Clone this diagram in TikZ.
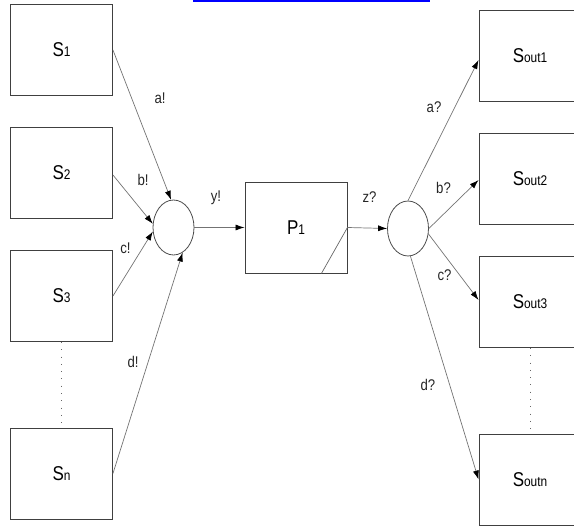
\documentclass[tikz,border=0pt]{standalone}
\usepackage{fontspec}
\setmainfont[FakeStretch=0.85]{Liberation Sans}
\usetikzlibrary{arrows.meta,shapes.geometric}
\newcommand{\boxname}[2]{{\fontsize{20}{22}\selectfont #1}{\fontsize{14}{16}\selectfont #2}}
\begin{document}
\begin{tikzpicture}[x=1pt,y=-1pt,
  procbox/.style={draw=black!75,line width=0.9pt,rectangle,minimum width=102pt,minimum height=91pt,inner sep=0pt},
  joint/.style={draw=black!70,line width=0.8pt,ellipse,minimum width=41pt,minimum height=55pt,inner sep=0pt},
  link/.style={draw=black!55,line width=0.7pt,-{Latex[length=9pt,width=6pt,black]}},
  chan/.style={font=\fontsize{15.5}{17}\selectfont,inner sep=0pt,text=black!85},
  gap/.style={draw=black!60,line width=0.8pt,dash pattern=on 0.8pt off 6.5pt}]
\useasboundingbox (0,0) rectangle (574,526);

% clipped hyperlink at the top edge
\fill[blue] (193,0) rectangle (430,2);

% senders
\node[procbox] (S1) at (61.5,50) {\boxname{S}{1}};
\node[procbox] (S2) at (61.5,172.5) {\boxname{S}{2}};
\node[procbox] (S3) at (61.5,296) {\boxname{S}{3}};
\node[procbox] (Sn) at (61.5,473.5) {\boxname{S}{n}};

% process
\node[procbox] (P1) at (296,227.5) {\boxname{P}{1}};
\draw[draw=black!60,line width=0.7pt] ([xshift=-26pt]P1.south east) -- (P1.east);

% merge and split points
\node[joint] (L) at (173.5,227.5) {};
\node[joint] (R) at (408,228.5) {};

% receivers
\node[procbox] (O1) at (530,55.5) {\boxname{S}{out1}};
\node[procbox] (O2) at (530,178.5) {\boxname{S}{out2}};
\node[procbox] (O3) at (530,302) {\boxname{S}{out3}};
\node[procbox] (On) at (530,479.5) {\boxname{S}{outn}};

% elided boxes
\draw[gap] (S3.south) -- (Sn.north);
\draw[gap] (O3.south) -- (On.north);

% inputs
\draw[link] (S1.east) -- (L.95);
\draw[link] ([yshift=-2.5pt]S2.east) -- (L.170);
\draw[link] (S3.east) -- (L.191);
\draw[link] (Sn.east) -- (L.-70);
\draw[link] (L.east) -- (P1.west);
\draw[link] (P1.east) -- (R.west);

% outputs
\draw[link] (R.north) -- ([yshift=-4.5pt]O1.west);
\draw[link] (R.east) -- ([yshift=-1.5pt]O2.west);
\draw[link] (R.-15) -- ([yshift=2pt]O3.west);
\draw[link] (R.-85) -- (On.west);

% channel labels
\node[chan] (la) at (160,98) {a!};
\node[chan] (lb) at (143,180) {b!};
\node[chan] (lc) at (125.5,248) {c!};
\node[chan] (ld) at (133,362) {d!};
\node[chan] (ly) at (216,197.5) {y!};
\node[chan] (lz) at (369.5,197.5) {z?};
\node[chan] (ra) at (434,107.5) {a?};
\node[chan] (rb) at (443.5,188) {b?};
\node[chan] (rc) at (444.5,275) {c?};
\node[chan] (rd) at (428,385) {d?};
\end{tikzpicture}
\end{document}
